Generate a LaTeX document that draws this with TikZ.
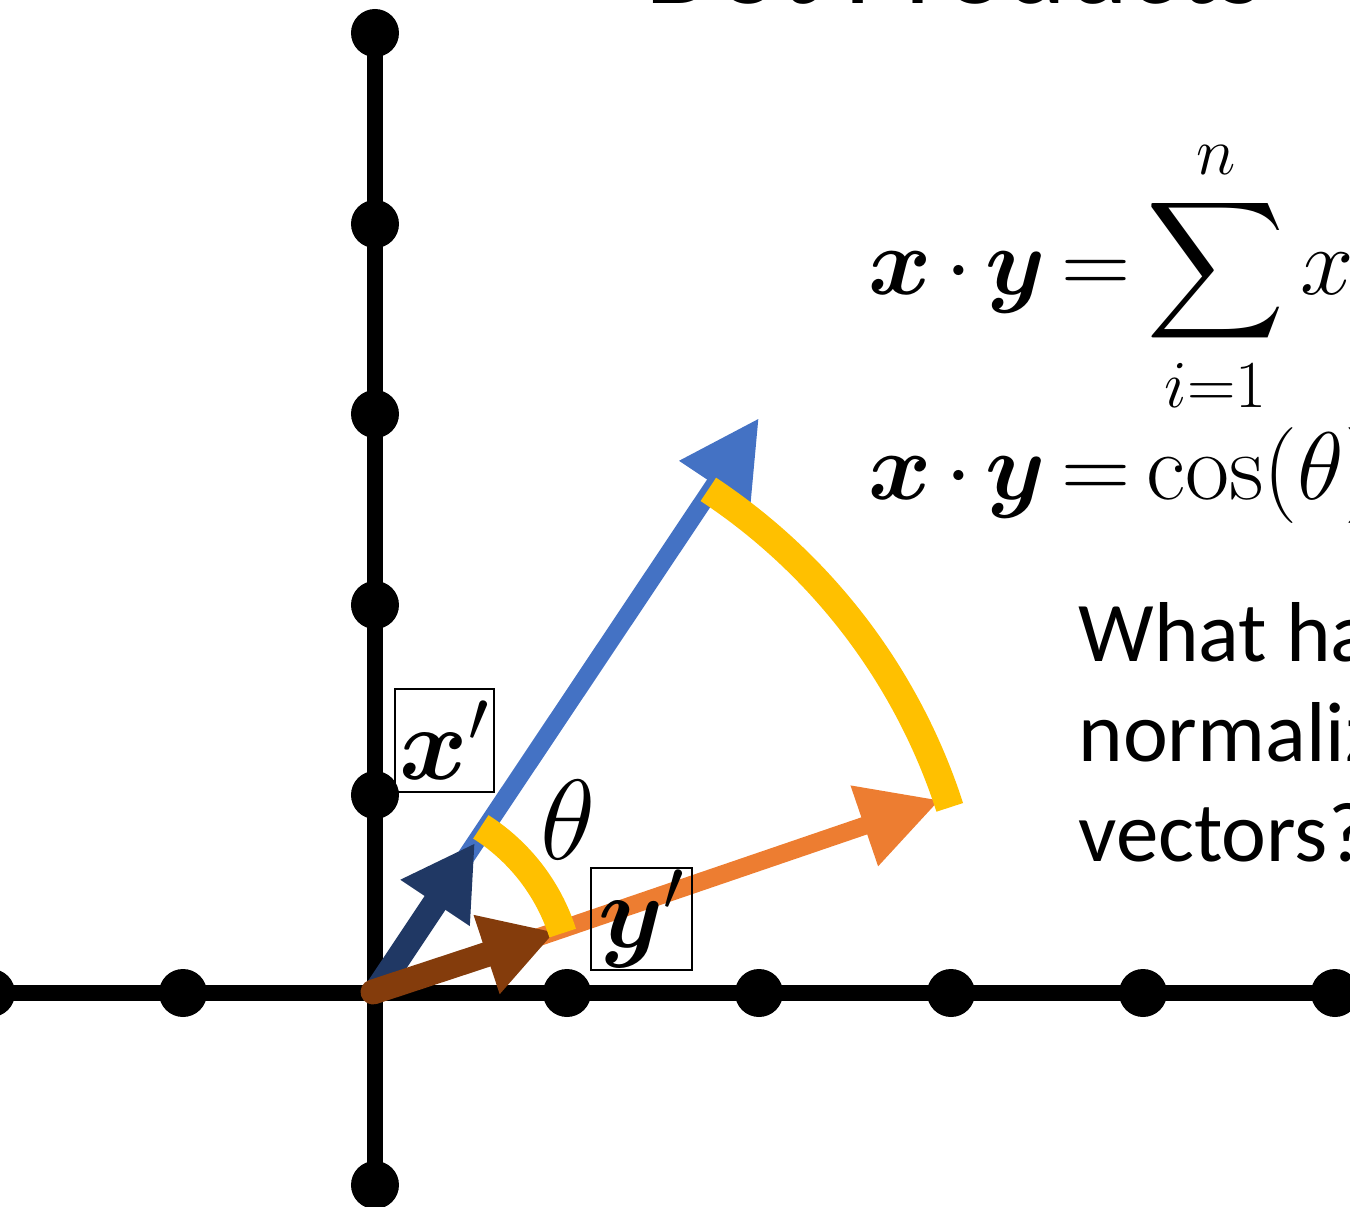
\RequirePackage{fix-cm}
\documentclass[tikz,border=0pt]{standalone}
\usepackage{amsmath, amssymb, bm}
\usepackage[no-math]{fontspec}
\setmainfont{Carlito}
\usepackage{tikz}
\usetikzlibrary{arrows.meta}
\usepackage{xcolor}
\definecolor{pptblue}{HTML}{4472C4}
\definecolor{pptorange}{HTML}{ED7D31}
\definecolor{pptgold}{HTML}{FFC000}
\definecolor{pptnavy}{HTML}{203864}
\definecolor{pptbrown}{HTML}{843C0C}
\newcommand{\tightmu}{\medmuskip=2.5mu\relax\thickmuskip=3mu\relax}

\begin{document}
\begin{tikzpicture}[x=0.5pt, y=0.5pt,
        tickdot/.style={circle, fill, inner sep=0pt, minimum size=24pt},
        axisline/.style={line width=8pt},
        longvec/.style={line width=9pt, -{Triangle[length=40pt, width=40pt]}},
        unitvec/.style={line width=12.5pt, -{Triangle[length=36pt, width=39pt]}},
        anglearc/.style={line width=14pt, draw=pptgold},
        vecbox/.style={draw, line width=0.75pt, inner sep=0pt, font=\fontsize{52}{52}\selectfont},
        formula/.style={anchor=base west, inner sep=0pt, font=\fontsize{48}{48}\selectfont}]
        \useasboundingbox (-375,-213) rectangle (975,993);
        \clip (-375,-213) rectangle (975,993);

        % Origin and tick dots
        \coordinate (O) at (0,0);
        \node[tickdot] (xm2) at (-384,0) {};
        \node[tickdot] (xm1) at (-192,0) {};
        \node[tickdot] (x1)  at (192,0)  {};
        \node[tickdot] (x2)  at (384,0)  {};
        \node[tickdot] (x3)  at (576,0)  {};
        \node[tickdot] (x4)  at (768,0)  {};
        \node[tickdot] (x5)  at (960,0)  {};
        \node[tickdot] (ym1) at (0,-192) {};
        \node[tickdot] (y1)  at (0,198)  {};
        \node[tickdot] (y2)  at (0,388)  {};
        \node[tickdot] (y3)  at (0,579)  {};
        \node[tickdot] (y4)  at (0,769)  {};
        \node[tickdot] (y5)  at (0,960)  {};

        % Axes
        \draw[axisline] (xm2.center)--(x5.center);
        \draw[axisline] (ym1.center)--(y5.center);

        % Vector tips
        \coordinate (xtip)  at (384,575);
        \coordinate (ytip)  at (565,193);
        \coordinate (xntip) at (100,150);
        \coordinate (yntip) at (180,61);

        % Vectors x and y
        \draw[longvec, draw=pptblue]   (O)--(xtip);
        \draw[longvec, draw=pptorange] (O)--(ytip);

        % Normalized vectors
        \draw[unitvec, draw=pptnavy] (O)--(xntip);
        \draw[unitvec, draw=pptbrown, line cap=round] (-2,1)--(yntip);

        % Angle arcs
        \draw[anglearc] (17.9:604) arc[start angle=17.9, end angle=56.5, radius=604];
        \draw[anglearc] (17.7:197) arc[start angle=17.7, end angle=57.5, radius=197];
        \node[font=\fontsize{57}{57}\selectfont] (theta) at (193,173) {$\theta$};

        % Labels of the normalized vectors
        \node[vecbox, minimum width=49.5pt, minimum height=51.5pt] (xlbl) at (69.5,252.5) {$\boldsymbol{x}'$};
        \node[vecbox, minimum width=50.5pt, minimum height=51pt] (ylbl) at (266.5,74) {$\boldsymbol{y}'$};

        % Title and formulas
        \node[anchor=base west, inner sep=0pt, font=\fontsize{58.5}{60}\selectfont] (title) at (270,989) {Dot Products};
        \node[formula] (eqsum) at (493,698)
            {$\tightmu\displaystyle \boldsymbol{x}\cdot\boldsymbol{y} = \sum_{i=1}^{n} x_i y_i$};
        \node[formula] (eqcos) at (493,493)
            {$\tightmu\boldsymbol{x}\cdot\boldsymbol{y} = \cos(\theta)$};
        \node[anchor=north west, inner sep=0pt, align=left, font=\fontsize{42.5}{50}\selectfont] (question) at (703,391)
            {What happens to\\normalized\\vectors?};
\end{tikzpicture}
\end{document}
